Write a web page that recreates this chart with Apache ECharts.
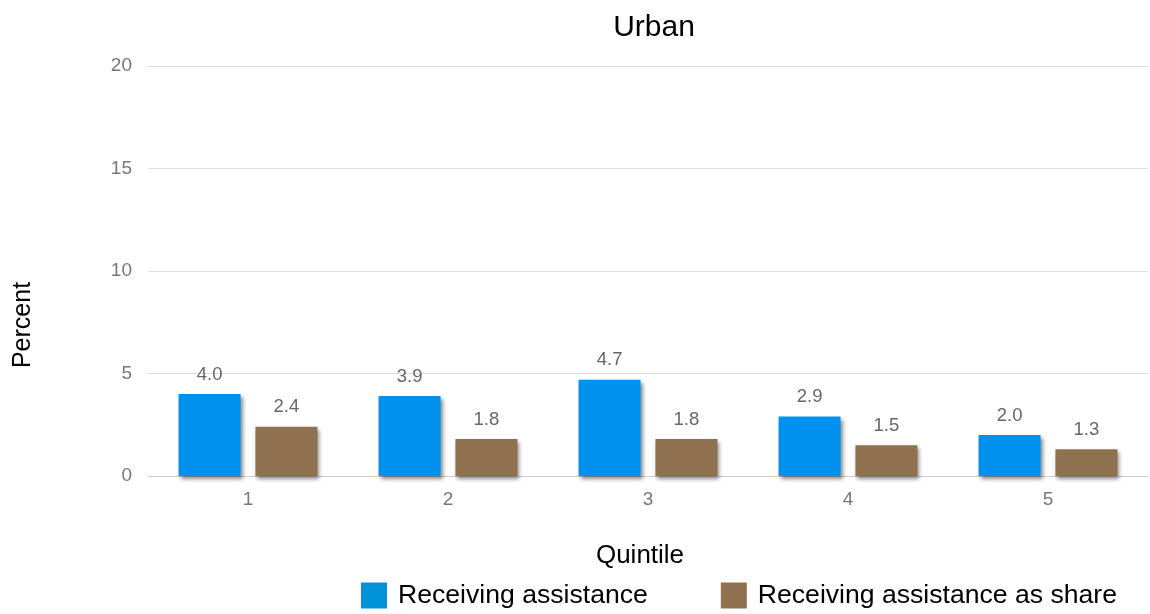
<!DOCTYPE html>
<html>
<head>
<meta charset="utf-8">
<script src="https://cdn.jsdelivr.net/npm/echarts@6/dist/echarts.min.js"></script>
<style>
  html, body { margin: 0; padding: 0; background: #fff; }
  #chart { width: 1150px; height: 614px; }
</style>
</head>
<body>
<div id="chart"></div>
<script>
// Quintile categories and the two series shown per quintile
const quintiles = ['1', '2', '3', '4', '5'];
const receivingAssistance = [4.0, 3.9, 4.7, 2.9, 2.0];
const receivingAssistanceShare = [2.4, 1.8, 1.8, 1.5, 1.3];
const seriesNames = ['Receiving assistance', 'Receiving assistance as share'];

const FONT = '"Liberation Sans", Arial, sans-serif';
const barShadow = {
  shadowColor: 'rgba(0,0,0,0.45)',
  shadowBlur: 4,
  shadowOffsetX: 2,
  shadowOffsetY: 3
};

const chart = echarts.init(document.getElementById('chart'), null, { renderer: 'canvas' });

function barSeries(name, data, color) {
  return {
    name: name,
    type: 'bar',
    data: data,
    barWidth: 62,
    barGap: '24%',
    itemStyle: Object.assign({ color: color }, barShadow),
    label: {
      show: true,
      position: 'top',
      distance: 10,
      color: '#666',
      fontFamily: FONT,
      fontSize: 18.5,
      formatter: p => p.value.toFixed(1)
    }
  };
}

chart.setOption({
  animation: false,
  textStyle: { fontFamily: FONT },
  title: {
    text: 'Urban',
    left: 649,
    top: 8,
    textAlign: 'center',
    textStyle: { fontFamily: FONT, fontSize: 30, fontWeight: 'normal', color: '#000' }
  },
  legend: {
    data: [
      { name: seriesNames[0], itemStyle: { color: '#0091D8', shadowBlur: 0, shadowOffsetX: 0, shadowOffsetY: 0 } },
      { name: seriesNames[1], itemStyle: { color: '#8F7150', shadowBlur: 0, shadowOffsetX: 0, shadowOffsetY: 0 } }
    ],
    bottom: 0,
    left: 356,
    itemWidth: 26,
    itemHeight: 26,
    itemGap: 73,
    icon: 'rect',
    textStyle: { fontFamily: FONT, fontSize: 26.6, color: '#000', padding: [0, 0, 0, 6] }
  },
  grid: { left: 148, right: 2, top: 66, bottom: 138, containLabel: false },
  xAxis: {
    type: 'category',
    data: quintiles,
    name: 'Quintile',
    nameLocation: 'middle',
    nameGap: 67,
    nameTextStyle: { fontFamily: FONT, fontSize: 26, color: '#000', padding: [0, 16, 0, 0] },
    axisLine: { show: true, lineStyle: { color: '#ccc' } },
    axisTick: { show: false },
    axisLabel: { color: '#777', fontSize: 19, margin: 14, fontFamily: FONT }
  },
  yAxis: {
    type: 'value',
    min: 0,
    max: 20,
    interval: 5,
    name: 'Percent',
    nameLocation: 'middle',
    nameGap: 112,
    nameRotate: 90,
    nameTextStyle: { fontFamily: FONT, fontSize: 25, color: '#000', padding: [0, 108, 0, 0] },
    axisLine: { show: false },
    axisTick: { show: false },
    axisLabel: { color: '#777', fontSize: 19, margin: 16, fontFamily: FONT },
    splitLine: { lineStyle: { color: '#ddd' } }
  },
  series: [
    barSeries(seriesNames[0], receivingAssistance, '#0090EE'),
    barSeries(seriesNames[1], receivingAssistanceShare, '#8F7150')
  ]
});
</script>
</body>
</html>
